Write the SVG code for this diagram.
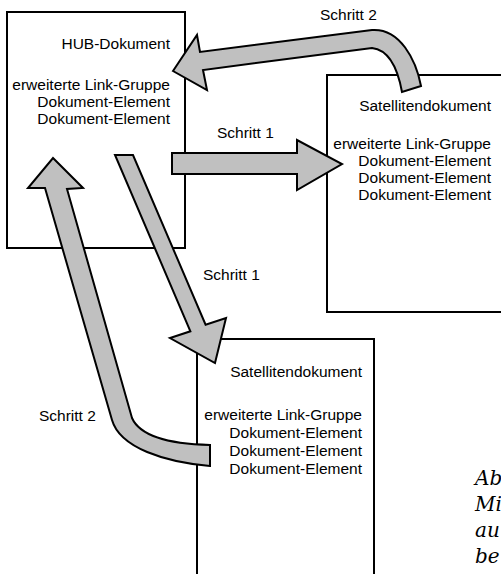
<svg xmlns="http://www.w3.org/2000/svg" width="501" height="574" viewBox="0 0 501 574">
<style>
.box{fill:#fff;stroke:#000;stroke-width:2}
.t{font-family:"Liberation Sans",Arial,sans-serif;font-size:15.5px;fill:#000}
.r{text-anchor:end}
.arr{fill:#c0c0c0;stroke:#000;stroke-width:2;stroke-linejoin:miter}
.cap{font-family:"DejaVu Serif","Liberation Serif",serif;font-style:italic;font-size:20px;fill:#000}
</style>
<rect width="501" height="574" fill="#fff"/>
<g id="hub">
<rect class="box" x="7" y="12" width="178" height="236"/>
<text class="t r" x="170" y="49">HUB-Dokument</text>
<text class="t r" x="170" y="90">erweiterte Link-Gruppe</text>
<text class="t r" x="170" y="107">Dokument-Element</text>
<text class="t r" x="170" y="124">Dokument-Element</text>
</g>
<g id="satellit1">
<rect class="box" x="327" y="75" width="180" height="237"/>
<text class="t r" x="491" y="111">Satellitendokument</text>
<text class="t r" x="491" y="149">erweiterte Link-Gruppe</text>
<text class="t r" x="491" y="166">Dokument-Element</text>
<text class="t r" x="491" y="183">Dokument-Element</text>
<text class="t r" x="491" y="200">Dokument-Element</text>
</g>
<g id="satellit2">
<rect class="box" x="197" y="339" width="177" height="250"/>
<text class="t r" x="362" y="377">Satellitendokument</text>
<text class="t r" x="362" y="420">erweiterte Link-Gruppe</text>
<text class="t r" x="362" y="438">Dokument-Element</text>
<text class="t r" x="362" y="456">Dokument-Element</text>
<text class="t r" x="362" y="474">Dokument-Element</text>
</g>
<g id="connectors">
<path class="arr" d="M173,71 L197,35 L200,52 L372,30 C400,28 416,60 421,86 L402,92 C398,70 390,50 372,48 L203,70 L207,90 Z"/>
<path class="arr" d="M172,153 L297,153 L297,140 L342,164 L297,190 L297,174 L172,174 Z"/>
<path class="arr" d="M115,155 L133,155 L205.6,324.7 L226,318 L215,363 L170,338 L190.4,331.3 Z"/>
<path class="arr" d="M53,158 L83,188 L67,189 L132,418 C140,436 170,444 210,445 L210,466 C165,462 120,448 112,420 L45,188 L28,188 Z"/>
<text class="t" x="320" y="20">Schritt 2</text>
<text class="t" x="217" y="138">Schritt 1</text>
<text class="t" x="203" y="280">Schritt 1</text>
<text class="t" x="39" y="421">Schritt 2</text>
</g>
<g id="caption">
<text class="cap" x="475" y="485">Ab</text>
<text class="cap" x="475" y="511">Mi</text>
<text class="cap" x="475" y="537">au</text>
<text class="cap" x="475" y="563">be</text>
</g>
</svg>
